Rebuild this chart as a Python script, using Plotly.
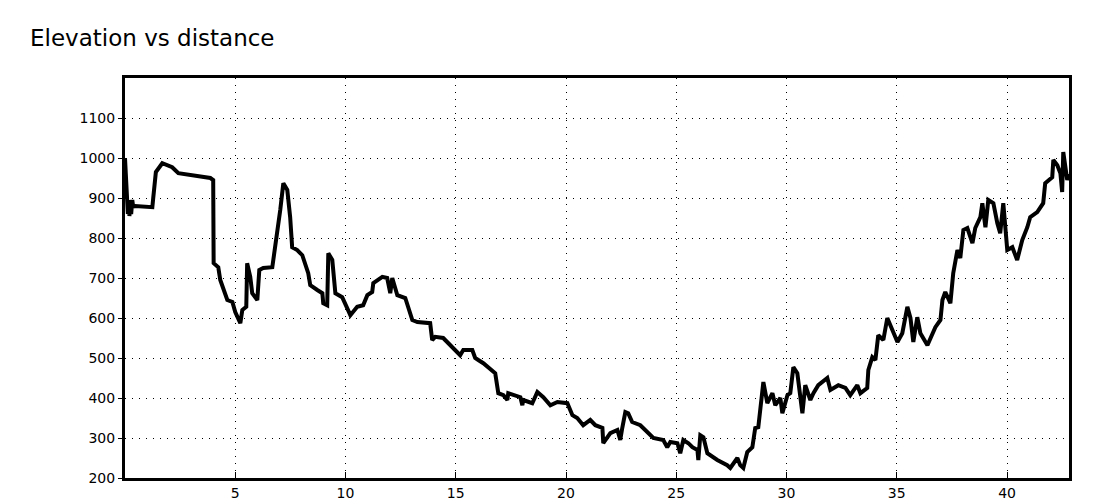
import plotly.graph_objects as go

# distance (km) and elevation (m)
distance_km = [
    0.00, 0.03, 0.06, 0.10, 0.13, 0.17, 0.20, 0.24, 0.28, 0.33, 0.37, 0.46,
    1.24, 1.28, 1.40, 1.69, 2.14, 2.42, 3.87, 4.00, 4.02, 4.23, 4.32, 4.64,
    4.87, 5.00, 5.23, 5.32, 5.50, 5.54, 5.68, 5.77, 6.00, 6.09, 6.27, 6.68,
    6.81, 6.90, 7.04, 7.18, 7.36, 7.49, 7.58, 7.81, 8.04, 8.31, 8.40, 8.72,
    8.95, 8.99, 9.17, 9.22, 9.40, 9.54, 9.85, 10.22, 10.53, 10.80, 10.99, 11.21,
    11.26, 11.67, 11.89, 12.03, 12.12, 12.35, 12.71, 13.03, 13.26, 13.84, 13.93, 14.07,
    14.43, 15.20, 15.34, 15.75, 15.88, 16.02, 16.25, 16.79, 16.93, 17.16, 17.34, 17.38,
    17.93, 18.02, 18.06, 18.47, 18.70, 18.97, 19.29, 19.61, 20.06, 20.29, 20.51, 20.78,
    21.10, 21.33, 21.65, 21.69, 22.01, 22.33, 22.46, 22.55, 22.69, 22.82, 23.00, 23.37,
    23.69, 23.96, 24.41, 24.59, 24.73, 25.05, 25.18, 25.32, 25.55, 25.73, 25.96, 26.00,
    26.09, 26.23, 26.41, 26.86, 27.31, 27.45, 27.77, 27.90, 28.04, 28.22, 28.45, 28.58,
    28.72, 28.81, 28.95, 29.13, 29.36, 29.49, 29.72, 29.81, 30.04, 30.17, 30.31, 30.49,
    30.72, 30.85, 31.08, 31.22, 31.44, 31.85, 31.99, 32.35, 32.67, 32.89, 33.21, 33.35,
    33.66, 33.71, 33.89, 34.03, 34.16, 34.39, 34.57, 34.80, 35.03, 35.25, 35.48, 35.62,
    35.75, 35.93, 36.07, 36.39, 36.75, 36.98, 37.07, 37.20, 37.43, 37.56, 37.75, 37.88,
    38.02, 38.20, 38.43, 38.56, 38.79, 38.88, 39.02, 39.15, 39.38, 39.56, 39.69, 39.83,
    40.01, 40.24, 40.46, 40.69, 40.92, 41.05, 41.37, 41.64, 41.73, 42.05, 42.10, 42.28,
    42.42, 42.50, 42.55, 42.73, 42.80,
]
elevation_m = [
    1000, 960, 910, 880, 860, 895, 855, 890, 860, 895, 878, 880,
    877, 900, 965, 987, 977, 962, 950, 945, 737, 727, 695, 645,
    640, 615, 587, 620, 628, 737, 703, 662, 645, 720, 725, 727,
    777, 827, 870, 937, 920, 852, 777, 770, 757, 712, 682, 670,
    662, 637, 632, 762, 745, 662, 652, 607, 628, 632, 657, 665,
    687, 703, 700, 662, 700, 657, 650, 595, 590, 587, 545, 553,
    550, 507, 520, 520, 500, 495, 487, 462, 412, 407, 395, 412,
    402, 382, 395, 387, 415, 402, 382, 390, 387, 357, 350, 332,
    345, 332, 325, 287, 312, 320, 295, 325, 365, 362, 340, 332,
    315, 300, 295, 277, 290, 287, 262, 295, 287, 277, 270, 245,
    307, 302, 262, 245, 232, 225, 250, 232, 225, 265, 277, 325,
    327, 377, 440, 387, 412, 382, 400, 362, 407, 412, 477, 462,
    362, 432, 395, 412, 432, 450, 420, 432, 425, 407, 432, 412,
    425, 470, 502, 495, 557, 545, 600, 570, 540, 562, 628, 600,
    540, 602, 562, 532, 577, 595, 645, 665, 637, 712, 770, 750,
    820, 825, 787, 825, 852, 887, 827, 895, 887, 837, 812, 887,
    770, 777, 745, 795, 827, 852, 865, 887, 937, 952, 995, 982,
    962, 915, 1015, 945, 960,
]

x_ticks = [5, 10, 15, 20, 25, 30, 35, 40]
y_ticks = [200, 300, 400, 500, 600, 700, 800, 900, 1000, 1100]

fig = go.Figure()
fig.add_trace(go.Scatter(
    x=distance_km, y=elevation_m, mode="lines",
    line=dict(color="black", width=4),
    showlegend=False,
))

axis_common = dict(
    showline=True, linecolor="black", linewidth=3, mirror=True,
    showgrid=True, gridcolor="black", gridwidth=1, griddash="1px,6px",
    tickcolor="black", tickwidth=1,
    tickfont=dict(family="DejaVu Sans", size=14, color="black"),
    zeroline=False, automargin=False,
)

fig.update_xaxes(range=[0, 42.81], tickvals=x_ticks, ticktext=[str(v) for v in x_ticks],
                 ticks="inside", ticklen=6, **axis_common)
fig.update_yaxes(range=[200, 1200], tickvals=y_ticks, ticktext=[str(v) for v in y_ticks],
                 ticks="outside", ticklen=4, **axis_common)

# page body has an 8px margin, so the figure is sized to fit the 1100x500 window
fig.update_layout(
    width=1092, height=492,
    margin=dict(l=117, r=31, t=70, b=22),
    paper_bgcolor="white", plot_bgcolor="white",
    title=dict(
        text="Elevation vs distance",
        font=dict(family="DejaVu Sans", size=23, color="black"),
        x=22 / 1092, xref="container", xanchor="left",
        y=1 - 30 / 492, yref="container", yanchor="middle",
    ),
)

fig.write_html("out.html")
